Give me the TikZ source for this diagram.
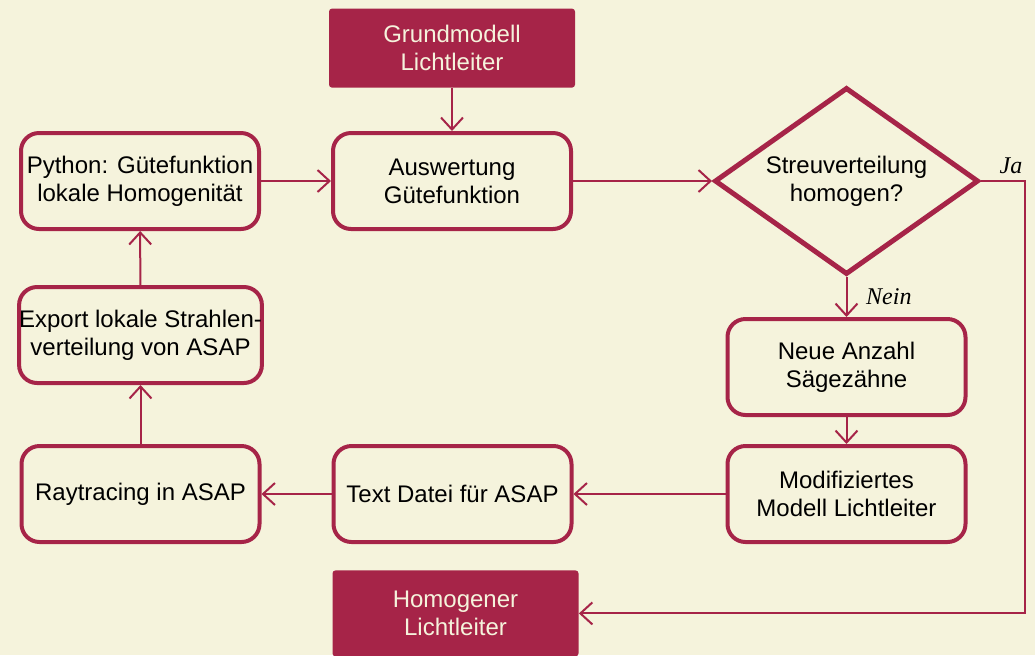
\documentclass[tikz,border=0pt]{standalone}
\usepackage{fontspec}
\setmainfont{Liberation Sans}
\newfontfamily\lblfont{Liberation Serif}
\usepackage{tikz}
\usetikzlibrary{positioning,arrows.meta,shapes.geometric}
\definecolor{wine}{HTML}{A62448}
\definecolor{paper}{HTML}{F5F3DC}
\tikzstyle{proc}=[draw=wine, line width=2pt, rounded corners=9pt, minimum width=119pt, minimum height=48pt, inner sep=0pt, align=center, font=\fontsize{12}{14}\selectfont]
\tikzstyle{term}=[fill=wine, text=paper, rounded corners=1.5pt, minimum width=123pt, minimum height=39.5pt, inner sep=0pt, align=center, font=\fontsize{12}{14}\selectfont]
\tikzstyle{ask}=[draw=wine, line width=2.5pt, diamond, aspect=1.41, minimum width=132pt, minimum height=93.5pt, inner sep=0pt, align=center, font=\fontsize{12}{14}\selectfont]
\tikzstyle{conn}=[draw=wine, line width=1pt, -{Straight Barb[length=6pt,width=11pt]}]
\tikzstyle{lbl}=[font=\lblfont\itshape\fontsize{12}{14}\selectfont]

\begin{document}
\begin{tikzpicture}[x=0.5pt,y=-0.5pt]
	\fill[paper] (0,0) rectangle (1035,655);
	\useasboundingbox (0,0) rectangle (1035,655);
	\node[proc] (ausw) at (452,181) {Auswertung\\Gütefunktion};
	\node[term, above=21.5pt of ausw] (grund) {Grundmodell\\Lichtleiter};
	\node[proc, left=35pt of ausw] (python) {Python: Gütefunktion\\lokale Homogenität};
	\node[ask, right=69.5pt of ausw] (raute) {Streuverteilung\\homogen?};
	\node[proc, below=20pt of raute] (neue) {Neue Anzahl\\Sägezähne};
	\node[proc, below=13.5pt of neue] (modi) {Modifiziertes\\Modell Lichtleiter};
	\node[proc, left=76pt of modi] (textdatei) {Text Datei für ASAP};
	\node[proc, left=35pt of textdatei] (ray) {Raytracing in ASAP};
	\node[proc, above=29.5pt of ray] (export) {Export lokale Strahlen-\\verteilung von ASAP};
	\node[term, below=13pt of textdatei, xshift=1.5pt, minimum height=43pt] (homog) {Homogener\\Lichtleiter};
	\path[conn] (grund) -- (ausw);
	\path[conn] (python) -- (ausw);
	\path[conn] (ausw) -- (raute);
	\path[conn] (raute) -- node[lbl, right=6pt] {Nein} (neue);
	\path[conn] (neue) -- (modi);
	\path[conn] (modi) -- (textdatei);
	\path[conn] (textdatei) -- (ray);
	\path[conn] (ray) -- (export);
	\path[conn] (export) -- (python);
	\path[conn] (raute.east) -- node[lbl, above, pos=0.68] {Ja} ++(22pt,0) |- (homog.east);
\end{tikzpicture}
\end{document}
